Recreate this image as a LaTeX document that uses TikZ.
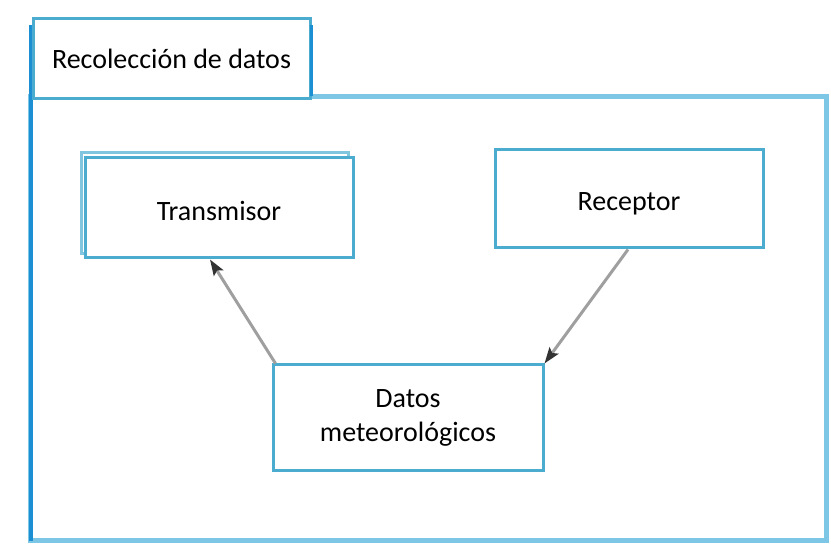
\documentclass[tikz,border=0pt]{standalone}
\usepackage{fontspec}
\setmainfont{Carlito}
\usetikzlibrary{arrows.meta}
\definecolor{marco}{HTML}{7DC6E6}
\definecolor{borde}{HTML}{4BACD0}
\definecolor{oscuro}{HTML}{1B8FD1}
\begin{document}
\begin{tikzpicture}[x=1pt,y=-1pt,
	caja/.style={draw=borde,line width=3pt,fill=white,inner sep=0pt,font=\fontsize{28}{34}\selectfont},
	flecha/.style={draw=gray!75,line width=3pt,-{Stealth[length=16pt,width=11pt,inset=3pt,color=black!80]}}]
	\useasboundingbox (0,0) rectangle (831,553);
	% marco exterior
	\draw [marco,line width=5pt] (30,97) rectangle (826,541);
	\draw [oscuro,line width=3.5pt] (31,25) -- (31,541);
	\node [caja,minimum width=277pt,minimum height=80pt] (titulo) at (171.5,58.5) {Recolección de datos};
	\draw [oscuro,line width=3pt] (311,25) -- (311,96);
	% cajas
	\draw [borde!70,line width=3pt] (81,153) rectangle (348,254);
	\node [caja,minimum width=268pt,minimum height=100pt,text height=26pt,text depth=0pt] (transmisor) at (219,208) {Transmisor};
	\node [caja,minimum width=268pt,minimum height=98pt,text height=24pt,text depth=0pt] (receptor) at (629,199) {Receptor};
	\node [caja,align=center,minimum width=270pt,minimum height=106pt] (datos) at (408,418) {Datos\\meteorológicos};
	% conexiones
	\draw [flecha] (datos.north west) ++(4,0) coordinate (d1) -- (transmisor.south -| 210,0);
	\draw [flecha] (receptor.south -| 628,0) -- (datos.north east);
\end{tikzpicture}
\end{document}
